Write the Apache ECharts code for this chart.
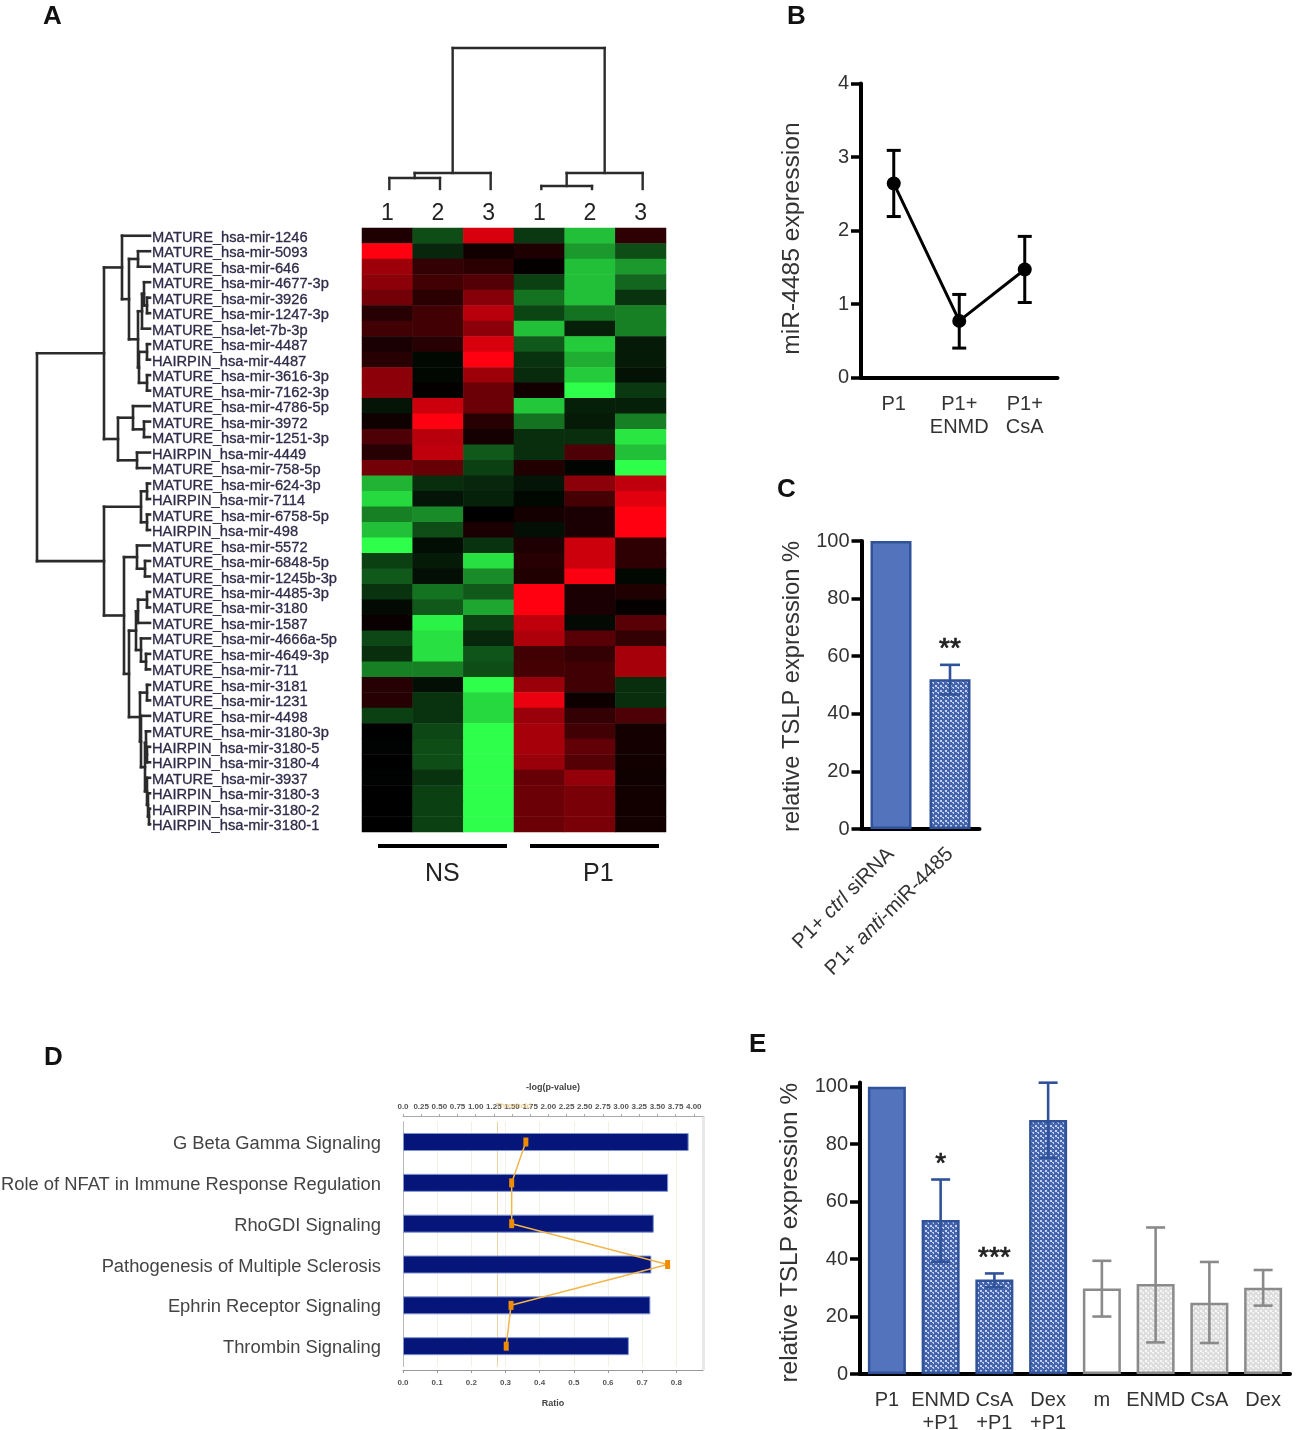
<!DOCTYPE html>
<html>
<head>
<meta charset="utf-8">
<title>miR-4485 panels</title>
<script src="https://cdn.jsdelivr.net/npm/echarts@6/dist/echarts.min.js"></script>
<style>
    html, body { margin: 0; padding: 0; background: #fff; }
    #main { width: 1304px; height: 1430px; filter: blur(0.6px); }
</style>
</head>
<body>
<div id="main"></div>
<script>
// panel A
var mirNames = [
    'MATURE_hsa-mir-1246', 'MATURE_hsa-mir-5093', 'MATURE_hsa-mir-646', 'MATURE_hsa-mir-4677-3p',
    'MATURE_hsa-mir-3926', 'MATURE_hsa-mir-1247-3p', 'MATURE_hsa-let-7b-3p', 'MATURE_hsa-mir-4487',
    'HAIRPIN_hsa-mir-4487', 'MATURE_hsa-mir-3616-3p', 'MATURE_hsa-mir-7162-3p', 'MATURE_hsa-mir-4786-5p',
    'MATURE_hsa-mir-3972', 'MATURE_hsa-mir-1251-3p', 'HAIRPIN_hsa-mir-4449', 'MATURE_hsa-mir-758-5p',
    'MATURE_hsa-mir-624-3p', 'HAIRPIN_hsa-mir-7114', 'MATURE_hsa-mir-6758-5p', 'HAIRPIN_hsa-mir-498',
    'MATURE_hsa-mir-5572', 'MATURE_hsa-mir-6848-5p', 'MATURE_hsa-mir-1245b-3p', 'MATURE_hsa-mir-4485-3p',
    'MATURE_hsa-mir-3180', 'MATURE_hsa-mir-1587', 'MATURE_hsa-mir-4666a-5p', 'MATURE_hsa-mir-4649-3p',
    'MATURE_hsa-mir-711', 'MATURE_hsa-mir-3181', 'MATURE_hsa-mir-1231', 'MATURE_hsa-mir-4498',
    'MATURE_hsa-mir-3180-3p', 'HAIRPIN_hsa-mir-3180-5', 'HAIRPIN_hsa-mir-3180-4', 'MATURE_hsa-mir-3937',
    'HAIRPIN_hsa-mir-3180-3', 'HAIRPIN_hsa-mir-3180-2', 'HAIRPIN_hsa-mir-3180-1'
];
var sampleNames = ['1', '2', '3', '1', '2', '3'];
// one row per miR, columns NS 1-3 then P1 1-3. red is up, green is down
var heatRows = [
    [0.12, -0.30, 0.85, -0.22, -0.75, 0.18],
    [1.00, -0.15, 0.07, 0.12, -0.60, -0.30],
    [0.62, 0.20, 0.17, 0.02, -0.75, -0.60],
    [0.55, 0.25, 0.32, -0.25, -0.75, -0.40],
    [0.45, 0.17, 0.52, -0.45, -0.75, -0.20],
    [0.15, 0.25, 0.72, -0.27, -0.45, -0.50],
    [0.25, 0.25, 0.55, -0.75, -0.12, -0.50],
    [0.10, 0.15, 0.85, -0.35, -0.80, -0.10],
    [0.15, -0.03, 1.00, -0.20, -0.68, -0.10],
    [0.55, -0.03, 0.62, -0.17, -0.80, -0.07],
    [0.55, 0.02, 0.42, 0.07, -1.00, -0.22],
    [-0.08, 0.80, 0.42, -0.78, -0.12, -0.12],
    [0.06, 1.00, 0.15, -0.45, -0.10, -0.50],
    [0.30, 0.72, 0.08, -0.18, -0.18, -0.90],
    [0.15, 0.75, -0.35, -0.18, 0.30, -0.75],
    [0.45, 0.40, -0.25, 0.13, -0.02, -1.00],
    [-0.70, -0.18, -0.15, -0.08, 0.55, 0.75],
    [-0.85, -0.08, -0.13, -0.03, 0.27, 0.88],
    [-0.50, -0.55, 0.00, 0.08, 0.10, 1.00],
    [-0.75, -0.30, 0.10, -0.06, 0.10, 1.00],
    [-1.00, -0.05, -0.20, 0.12, 0.80, 0.18],
    [-0.25, -0.10, -0.88, 0.15, 0.80, 0.18],
    [-0.35, -0.06, -0.55, 0.13, 0.98, -0.03],
    [-0.20, -0.45, -0.35, 1.00, 0.10, 0.13],
    [-0.04, -0.35, -0.65, 1.00, 0.10, 0.02],
    [0.04, -0.95, -0.25, 0.75, -0.04, 0.35],
    [-0.28, -0.88, -0.15, 0.68, 0.35, 0.20],
    [-0.18, -0.88, -0.33, 0.25, 0.20, 0.65],
    [-0.50, -0.50, -0.30, 0.27, 0.25, 0.65],
    [0.15, -0.06, -1.00, 0.60, 0.25, -0.18],
    [0.15, -0.20, -0.85, 0.92, 0.05, -0.18],
    [-0.25, -0.20, -0.85, 0.60, 0.20, 0.30],
    [0.00, -0.28, -1.00, 0.65, 0.25, 0.08],
    [-0.01, -0.30, -1.00, 0.65, 0.38, 0.08],
    [0.00, -0.30, -1.00, 0.60, 0.33, 0.07],
    [-0.01, -0.20, -1.00, 0.40, 0.58, 0.06],
    [0.00, -0.25, -1.00, 0.42, 0.48, 0.07],
    [0.00, -0.25, -1.00, 0.42, 0.48, 0.07],
    [0.00, -0.25, -1.00, 0.42, 0.48, 0.07]
];
// dendrograms as [height, child, child], a plain number is a leaf index
var rowTree = [113,
    [46,
        [28, 0, [21, [12, 1, 2],
            [12,
                [8, [6, 3, [3, 4, 5]], 6],
                [11, [3, 7, 8], [3, 9, 10]]
            ]
        ]],
        [32, [17, 11, [6, 12, 13]], [13, 14, 15]]
    ],
    [46,
        [9, [3, 16, 17], [3, 18, 19]],
        [26,
            [13, 20, [5, 21, 22]],
            [21,
                [14, [12, [3, 23, 24], 25], [9, 26, [4, 27, 28]]],
                [10, [3, 29, 30], [9, 31, [5, [4, 32, [3, 33, 34]], [3, 35, [2, 36, [1, 37, 38]]]]]]
            ]
        ]
    ]
];
var colTree = [141, [16, [11, 0, 1], 2], [16, [3, 3, 4], 5]];

// panel B
var bGroups = ['P1', 'P1+\nENMD', 'P1+\nCsA'];
var bMeans = [2.64, 0.77, 1.47];
var bLow = [2.19, 0.40, 1.02];
var bHigh = [3.09, 1.13, 1.92];
var bTicks = [0, 1, 2, 3, 4];

// panel C
var cGroups = ['P1+ {i|ctrl} siRNA', 'P1+ {i|anti}-miR-4485'];
var cMeans = [100, 52];
var cLow = [100, 46.7];
var cHigh = [100, 57];
var cStars = ['', '**'];

// panel D
var pathways = ['G Beta Gamma Signaling', 'Role of NFAT in Immune Response Regulation', 'RhoGDI Signaling',
    'Pathogenesis of Multiple Sclerosis', 'Ephrin Receptor Signaling', 'Thrombin Signaling'];
var ratios = [0.836, 0.776, 0.734, 0.727, 0.724, 0.661];
var logP = [1.69, 1.495, 1.495, 3.64, 1.486, 1.42];
var threshold = 1.3;
var ratioTicks = [0, 0.1, 0.2, 0.3, 0.4, 0.5, 0.6, 0.7, 0.8];
var logPTicks = [0, 0.25, 0.5, 0.75, 1, 1.25, 1.5, 1.75, 2, 2.25, 2.5, 2.75, 3, 3.25, 3.5, 3.75, 4];

// panel E
var eGroups = ['P1', 'ENMD\n+P1', 'CsA\n+P1', 'Dex\n+P1', 'm', 'ENMD', 'CsA', 'Dex'];
var eMeans = [100, 53.6, 32.9, 88.4, 29.8, 31.3, 24.8, 30];
var eLow = [100, 39.1, 30.2, 75.3, 20, 11, 10.8, 23.8];
var eHigh = [100, 67.7, 35, 101.4, 39.4, 51, 39, 36.2];
var eStars = ['', '*', '***', '', '', '', '', ''];
var tslpTicks = [0, 20, 40, 60, 80, 100];

var FONT = '"Liberation Sans", Arial, sans-serif';
var BLUE = '#5374bd';
var BLUE_EDGE = '#2f5298';
var GREY_EDGE = '#8a8a8a';

function dotPattern(bg, dot) {
    let c = document.createElement('canvas');
    c.width = 5;
    c.height = 5;
    let ctx = c.getContext('2d');
    ctx.fillStyle = bg;
    ctx.fillRect(0, 0, 5, 5);
    ctx.fillStyle = dot;
    ctx.fillRect(0, 0, 2, 2);
    ctx.fillRect(3, 3, 1, 1);
    ctx.fillRect(2, 2, 2, 1);
    return {image: c, repeat: 'repeat'};
}
var bluePattern = dotPattern('#4566ae', '#c4d0ea');
var greyPattern = dotPattern('#dddddd', '#f6f6f6');

// walk a dendrogram, returns the position of the node, pushes [a1, h1, a2, h2] segments
function treeSegments(node, out) {
    if (typeof node === 'number') {
        return {pos: node + 0.5, h: 0};
    }
    let a = treeSegments(node[1], out);
    let b = treeSegments(node[2], out);
    out.push([a.pos, a.h, a.pos, node[0]]);
    out.push([b.pos, b.h, b.pos, node[0]]);
    out.push([a.pos, node[0], b.pos, node[0]]);
    return {pos: (a.pos + b.pos) / 2, h: node[0]};
}
var rowSegs = [];
treeSegments(rowTree, rowSegs);
var colSegs = [];
treeSegments(colTree, colSegs);

var heatData = [];
heatRows.forEach(function (row, r) {
    row.forEach(function (v, c) {
        heatData.push([c, r, v]);
    });
});

function renderRowSeg(params, api) {
    let p1 = api.coord([api.value(1), api.value(0)]);
    let p2 = api.coord([api.value(3), api.value(2)]);
    return {
        type: 'line',
        shape: {x1: p1[0], y1: p1[1], x2: p2[0], y2: p2[1]},
        style: {stroke: '#2b2b2b', lineWidth: 2.6, lineCap: 'square'}
    };
}

function renderColSeg(params, api) {
    let p1 = api.coord([api.value(0), api.value(1)]);
    let p2 = api.coord([api.value(2), api.value(3)]);
    return {
        type: 'line',
        shape: {x1: p1[0], y1: p1[1], x2: p2[0], y2: p2[1]},
        style: {stroke: '#2b2b2b', lineWidth: 2.4, lineCap: 'square'}
    };
}

function errorRenderer(color, capHalf, lineWidth, stars) {
    return function (params, api) {
        let i = api.value(0);
        let lo = api.coord([i, api.value(1)]);
        let hi = api.coord([i, api.value(2)]);
        let style = {stroke: color(params.dataIndex), lineWidth: lineWidth};
        let children = [];
        if (api.value(1) !== api.value(2)) {
            children.push(
                {type: 'line', shape: {x1: lo[0], y1: lo[1], x2: hi[0], y2: hi[1]}, style: style},
                {type: 'line', shape: {x1: lo[0] - capHalf, y1: lo[1], x2: lo[0] + capHalf, y2: lo[1]}, style: style},
                {type: 'line', shape: {x1: hi[0] - capHalf, y1: hi[1], x2: hi[0] + capHalf, y2: hi[1]}, style: style}
            );
        }
        if (stars && stars[params.dataIndex]) {
            children.push({
                type: 'text',
                style: {
                    x: hi[0], y: hi[1] - 15.5, text: stars[params.dataIndex],
                    font: '28px ' + FONT, fill: '#222', stroke: '#222', lineWidth: 0.7,
                    align: 'center', verticalAlign: 'middle'
                }
            });
        }
        return {type: 'group', children: children};
    };
}

function thickAxisX(gridIndex, groups, extra) {
    return Object.assign({
        type: 'category', gridIndex: gridIndex, data: groups,
        axisLine: {lineStyle: {color: '#000', width: 4}},
        axisTick: {alignWithLabel: true, length: 10, lineStyle: {color: '#000', width: 3.5}},
        axisLabel: {fontFamily: FONT, fontSize: 20, color: '#333', margin: 15, lineHeight: 23, interval: 0},
        splitLine: {show: false}
    }, extra || {});
}

function thickAxisY(gridIndex, name, ticks, max, gap, namePad, nameSize) {
    return {
        type: 'value', gridIndex: gridIndex, min: 0, max: max,
        name: name, nameLocation: 'middle', nameRotate: 90, nameGap: gap,
        nameTextStyle: {fontFamily: FONT, fontSize: nameSize, color: '#333', padding: [0, namePad, 0, 0]},
        axisLine: {show: true, lineStyle: {color: '#000', width: 4}},
        axisTick: {show: true, length: 10, customValues: ticks, lineStyle: {color: '#000', width: 3.5}},
        axisLabel: {fontFamily: FONT, fontSize: 20, color: '#333', margin: 12, customValues: ticks},
        splitLine: {show: false}
    };
}

function cBarStyle(i) {
    if (i === 0) {
        return {color: BLUE, borderColor: BLUE_EDGE, borderWidth: 2.5};
    }
    return {color: bluePattern, borderColor: BLUE_EDGE, borderWidth: 2.5};
}

function eBarStyle(i) {
    if (i === 0) {
        return {color: BLUE, borderColor: BLUE_EDGE, borderWidth: 2.5};
    }
    if (i < 4) {
        return {color: bluePattern, borderColor: BLUE_EDGE, borderWidth: 2.5};
    }
    if (i === 4) {
        return {color: '#fff', borderColor: GREY_EDGE, borderWidth: 2.5};
    }
    return {color: greyPattern, borderColor: GREY_EDGE, borderWidth: 2.5};
}

function panelLetter(text, x, y) {
    return {
        type: 'text', left: x, top: y,
        style: {text: text, font: 'bold 26px ' + FONT, fill: '#111'}
    };
}

var myChart = echarts.init(document.getElementById('main'));
var option = {
    animation: false,
    backgroundColor: '#fff',
    textStyle: {fontFamily: FONT},
    visualMap: {
        show: false, seriesIndex: 0, min: -1, max: 1,
        inRange: {color: ['#2dff4a', '#000000', '#ff0010']}
    },
    grid: [
        {left: 362, top: 228, width: 304, height: 604, outerBoundsMode: 'none'},     // A heatmap
        {left: 37, top: 228, width: 113, height: 604, outerBoundsMode: 'none'},      // A row tree
        {left: 364, top: 48, width: 304, height: 141, outerBoundsMode: 'none'},      // A column tree
        {left: 861, top: 83.5, width: 196.5, height: 294, outerBoundsMode: 'none'},  // B
        {left: 861.5, top: 541, width: 118, height: 288, outerBoundsMode: 'none'},   // C
        {left: 403, top: 1121.6, width: 300, height: 245, outerBoundsMode: 'none'},  // D
        {left: 860, top: 1082.4, width: 430, height: 291.6, outerBoundsMode: 'none'} // E
    ],
    xAxis: [
        {
            type: 'category', gridIndex: 0, position: 'top', data: sampleNames,
            axisLine: {show: false}, axisTick: {show: false},
            axisLabel: {fontFamily: FONT, fontSize: 23, color: '#222', margin: 3, interval: 0}
        },
        {type: 'value', gridIndex: 1, min: 0, max: 113, inverse: true, show: false},
        {type: 'value', gridIndex: 2, min: 0, max: 6, show: false},
        thickAxisX(3, bGroups),
        thickAxisX(4, cGroups, {
            axisLabel: {
                fontFamily: FONT, fontSize: 20.5, color: '#333', margin: 22, rotate: 45, interval: 0,
                formatter: function (v) { return v; },
                rich: {i: {fontFamily: FONT, fontSize: 20.5, fontStyle: 'italic', color: '#333'}}
            }
        }),
        {
            type: 'value', gridIndex: 5, min: 0, max: 0.878, interval: 0.05, offset: 3.4,
            name: 'Ratio', nameLocation: 'middle', nameGap: 29,
            nameTextStyle: {fontFamily: FONT, fontSize: 9, color: '#444', fontWeight: 'bold'},
            axisLine: {show: true, lineStyle: {color: '#999', width: 1}},
            axisTick: {show: true, length: 3, customValues: ratioTicks, lineStyle: {color: '#999'}},
            axisLabel: {
                fontFamily: FONT, fontSize: 8, fontWeight: 'bold', color: '#555', margin: 9,
                customValues: ratioTicks,
                formatter: function (v) { return v.toFixed(1); }
            },
            splitLine: {show: true, lineStyle: {color: '#f3f1e6', width: 1}}
        },
        {
            type: 'value', gridIndex: 5, position: 'top', min: 0, max: 4.127, interval: 0.25, offset: 5.6,
            name: '-log(p-value)', nameLocation: 'middle', nameGap: 24,
            nameTextStyle: {fontFamily: FONT, fontSize: 9, color: '#444', fontWeight: 'bold'},
            axisLine: {show: true, lineStyle: {color: '#aaa', width: 1}},
            axisTick: {show: true, length: 2, customValues: logPTicks, lineStyle: {color: '#aaa'}},
            axisLabel: {
                fontFamily: FONT, fontSize: 8, fontWeight: 'bold', color: '#555', margin: 5,
                customValues: logPTicks,
                formatter: function (v) { return v === 0 ? '0.0' : v.toFixed(2); }
            },
            splitLine: {show: false}
        },
        thickAxisX(6, eGroups)
    ],
    yAxis: [
        {
            type: 'category', gridIndex: 0, inverse: true, data: mirNames,
            axisLine: {show: false}, axisTick: {show: false},
            axisLabel: {
                align: 'left', margin: 210, interval: 0,
                formatter: function (v) { return '{a|' + v + '}'; },
                rich: {
                    a: {
                        fontFamily: FONT, fontSize: 14.7, color: '#2f2a48', padding: [4, 0, 0, 0],
                        textBorderColor: '#2f2a48', textBorderWidth: 0.3
                    }
                }
            }
        },
        {type: 'value', gridIndex: 1, min: 0, max: 39, inverse: true, show: false},
        {type: 'value', gridIndex: 2, min: 0, max: 141, show: false},
        thickAxisY(3, 'miR-4485 expression', bTicks, 4, 56, 16, 24.6),
        thickAxisY(4, 'relative TSLP expression %', tslpTicks, 100, 57, 3, 23.7),
        {
            type: 'category', gridIndex: 5, inverse: true, data: pathways,
            axisLine: {show: true, lineStyle: {color: '#bbb', width: 1}}, axisTick: {show: false},
            axisLabel: {
                margin: 22, interval: 0,
                formatter: function (v) { return '{a|' + v + '}'; },
                rich: {a: {fontFamily: FONT, fontSize: 18.35, color: '#444', padding: [4, 0, 0, 0]}}
            }
        },
        thickAxisY(6, 'relative TSLP expression %', tslpTicks, 101.5, 58, 9, 24.4)
    ],
    series: [
        {
            type: 'heatmap', xAxisIndex: 0, yAxisIndex: 0, data: heatData,
            itemStyle: {borderWidth: 0}, progressive: 0
        },
        {
            type: 'custom', xAxisIndex: 1, yAxisIndex: 1, data: rowSegs, clip: false,
            encode: {x: [1, 3], y: [0, 2]}, renderItem: renderRowSeg
        },
        {
            type: 'custom', xAxisIndex: 2, yAxisIndex: 2, data: colSegs, clip: false,
            encode: {x: [0, 2], y: [1, 3]}, renderItem: renderColSeg
        },
        // B
        {
            type: 'line', xAxisIndex: 3, yAxisIndex: 3, data: bMeans, z: 3,
            symbol: 'circle', symbolSize: 14,
            lineStyle: {color: '#000', width: 3}, itemStyle: {color: '#000'}
        },
        {
            type: 'custom', xAxisIndex: 3, yAxisIndex: 3, clip: false, z: 4,
            data: bMeans.map(function (v, i) { return [i, bLow[i], bHigh[i]]; }),
            encode: {x: 0, y: [1, 2]},
            renderItem: errorRenderer(function () { return '#000'; }, 7, 3)
        },
        // C
        {
            type: 'bar', xAxisIndex: 4, yAxisIndex: 4, barWidth: 41,
            data: cMeans.map(function (v, i) { return {value: v, itemStyle: cBarStyle(i)}; })
        },
        {
            type: 'custom', xAxisIndex: 4, yAxisIndex: 4, clip: false, z: 4,
            data: cMeans.map(function (v, i) { return [i, cLow[i], cHigh[i]]; }),
            encode: {x: 0, y: [1, 2]},
            renderItem: errorRenderer(function () { return BLUE_EDGE; }, 10, 2.6, cStars)
        },
        // D
        {
            type: 'bar', xAxisIndex: 5, yAxisIndex: 5, data: ratios, barWidth: 18,
            itemStyle: {color: '#05157a', borderColor: '#7f95cf', borderWidth: 1}
        },
        {
            type: 'line', xAxisIndex: 6, yAxisIndex: 5, data: logP, z: 5,
            symbol: 'rect', symbolSize: [5, 9],
            lineStyle: {color: '#f2b64a', width: 1.5}, itemStyle: {color: '#f08c00'},
            markLine: {
                silent: true, symbol: 'none', z: 1,
                lineStyle: {color: '#ecd3a5', width: 1, type: 'solid'},
                label: {
                    show: true, position: 'start', formatter: 'Threshold', offset: [16, -7],
                    fontFamily: FONT, fontSize: 8, color: '#e9c27a'
                },
                data: [{xAxis: threshold}]
            }
        },
        // E
        {
            type: 'bar', xAxisIndex: 7, yAxisIndex: 6, barWidth: 38,
            data: eMeans.map(function (v, i) { return {value: v, itemStyle: eBarStyle(i)}; })
        },
        {
            type: 'custom', xAxisIndex: 7, yAxisIndex: 6, clip: false, z: 4,
            data: eMeans.map(function (v, i) { return [i, eLow[i], eHigh[i]]; }),
            encode: {x: 0, y: [1, 2]},
            renderItem: errorRenderer(function (i) { return i < 4 ? BLUE_EDGE : GREY_EDGE; }, 9.5, 2.6, eStars)
        }
    ],
    graphic: [
        panelLetter('A', 43, 4),
        panelLetter('B', 787, 4),
        panelLetter('C', 777, 477),
        panelLetter('D', 44, 1045),
        panelLetter('E', 749, 1032),
        {type: 'rect', shape: {x: 378, y: 844, width: 129, height: 4}, style: {fill: '#000'}},
        {type: 'rect', shape: {x: 530, y: 844, width: 129, height: 4}, style: {fill: '#000'}},
        {type: 'text', left: 425, top: 862, style: {text: 'NS', font: '25px ' + FONT, fill: '#222'}},
        {type: 'text', left: 583, top: 862, style: {text: 'P1', font: '25px ' + FONT, fill: '#222'}},
        {type: 'rect', shape: {x: 702, y: 1116, width: 3, height: 254}, style: {fill: '#e8e8e8'}}
    ]
};
myChart.setOption(option);
</script>
</body>
</html>
